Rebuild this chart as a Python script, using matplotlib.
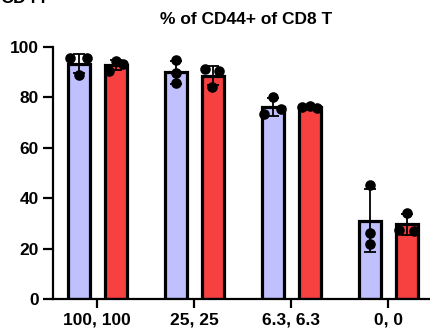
import numpy as np
import matplotlib.pyplot as plt

plt.rcParams['font.family'] = ['Liberation Sans', 'DejaVu Sans']
plt.rcParams['font.weight'] = 'bold'

# dose groups and replicate values (% CD44+ of CD8 T)
grupos = ['100, 100', '25, 25', '6.3, 6.3', '0, 0']
azul = [[95.5, 88.9, 95.5], [94.8, 89.5, 85.6], [73.3, 80.2, 75.5], [45.2, 26.3, 21.8]]
vermelho = [[90.6, 94.5, 93.3], [91.1, 84.3, 90.4], [76.0, 76.4, 75.7], [27.5, 34.3, 27.0]]
yticks = [0, 20, 40, 60, 80, 100]

COR_AZUL = '#c0c0ff'
COR_VERMELHO = '#f74141'

# horizontal spread of the replicate dots (left / middle / right)
espalha_azul = [[-0.085, 0.0, 0.085], [0.0, 0.0, 0.0], [-0.09, 0.0, 0.08], [0.0, 0.0, 0.0]]
espalha_verm = [[-0.07, 0.0, 0.08], [-0.08, -0.01, 0.07], [-0.08, 0.0, 0.08], [-0.08, 0.0, 0.08]]

fig = plt.figure(figsize=(4.3, 3.36), dpi=100)
ax = fig.add_axes([53 / 430, 37 / 336, (430 - 53) / 430, (299 - 47) / 336])

x = np.arange(len(grupos))
desloc = 0.19
largura = 0.225

for series, offset, cor, esp in [(azul, -desloc, COR_AZUL, espalha_azul),
                                 (vermelho, desloc, COR_VERMELHO, espalha_verm)]:
    dados = np.array(series)
    medias = dados.mean(axis=1)
    dp = dados.std(axis=1, ddof=1)
    ax.bar(x + offset, medias, width=largura, color=cor, edgecolor='black',
           linewidth=2.3, zorder=2)
    ax.errorbar(x + offset, medias, yerr=dp, fmt='none', ecolor='black',
                elinewidth=1.3, capsize=4, capthick=1.3, zorder=3, clip_on=False)
    for i in range(len(grupos)):
        ax.scatter(x[i] + offset + np.array(esp[i]), dados[i], s=58, color='black',
                   zorder=4, clip_on=False, linewidths=0)

ax.set_xlim(-0.455, 3.43)
ax.set_ylim(0, 100)
ax.set_yticks(yticks)
ax.set_xticks(x)
ax.set_xticklabels(grupos)

for lado in ['top', 'right']:
    ax.spines[lado].set_visible(False)
for lado in ['left', 'bottom']:
    ax.spines[lado].set_linewidth(1.6)
ax.tick_params(axis='y', length=7, width=1.6, pad=3, labelsize=12.5)
ax.tick_params(axis='x', length=6.5, width=1.6, pad=3, labelsize=12.5)

fig.text(246 / 430, 1 - 20 / 336, '% of CD44+ of CD8 T', ha='center', va='center',
         fontsize=12.5, fontweight='bold')
# panel header running off the top edge
fig.text(0.0, 1 - 3 / 336, 'CD44', ha='left', va='baseline', fontsize=13, fontweight='bold')

fig.savefig('out.png', dpi=100)
